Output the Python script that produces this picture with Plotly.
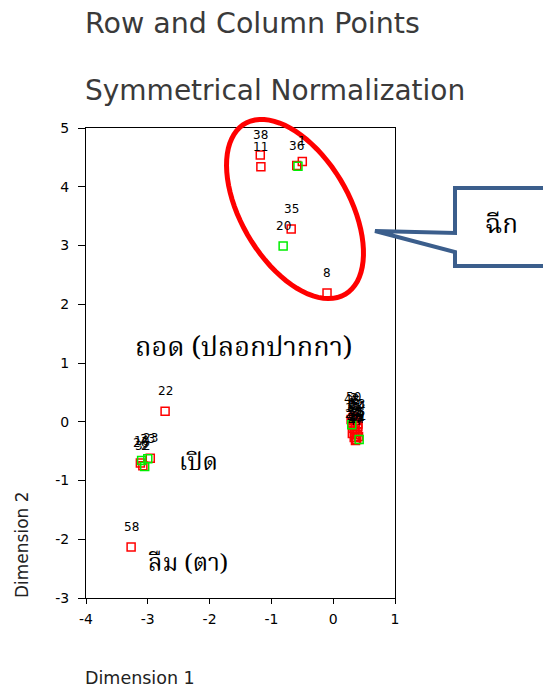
import numpy as np
import plotly.graph_objects as go

# ---------------- data ----------------
row_labels = ["38", "11", "36", "1", "35", "8", "22", "58",
              "23", "32", "26",
              "3", "5", "9", "12", "14", "17", "19", "25", "27", "29", "31", "40", "44", "47",
              "48", "50", "53", "55"]
row_x = [-1.18, -1.17, -0.59, -0.50, -0.68, -0.10, -2.72, -3.27,
         -2.96, -3.08, -3.12,
         0.33, 0.38, 0.30, 0.36, 0.40, 0.32, 0.35, 0.39, 0.31, 0.37, 0.41, 0.34, 0.38, 0.36,
         0.29, 0.33, 0.40, 0.35]
row_y = [4.54, 4.34, 4.36, 4.43, 3.28, 2.19, 0.18, -2.13,
         -0.62, -0.75, -0.70,
         0.06, 0.02, -0.02, -0.05, -0.08, -0.11, -0.14, -0.17, -0.20, -0.22, -0.25, -0.27, -0.30, -0.32,
         0.04, 0.08, -0.04, -0.18]

col_labels = ["", "20", "33", "2", "6", "7", "10"]
col_x = [-0.57, -0.81, -3.00, -3.05, 0.30, 0.42, -3.10]
col_y = [4.35, 2.99, -0.63, -0.76, -0.05, -0.30, -0.66]

x_ticks = [-4, -3, -2, -1, 0, 1]
x_tick_text = ["-4", "-3", "-2", "-1", "0", "1"]
y_ticks = [5, 4, 3, 2, 1, 0, -1, -2, -3]
y_tick_text = ["5", "4", "3", "2", "1", "0", "-1", "-2", "-3"]

title1 = "Row and Column Points"
title2 = "Symmetrical Normalization"
x_title = "Dimension 1"
y_title = "Dimension 2"
notes = [("ถอด (ปลอกปากกา)", 133, 348, 27), ("เปิด", 177, 464, 24), ("ลืม (ตา)", 146, 564, 24)]
callout_text = "ฉีก"

# ---------------- geometry (pixels) ----------------
W, H = 543, 691
L, R, T, B = 86, 395, 128, 598


def pxx(x):
    return (x - L) / (R - L)


def pxy(y):
    return (B - y) / (B - T)


LBL_FONT = dict(family="DejaVu Sans", size=12, color="black")
THAI_FONT = "Noto Serif Thai, Noto Sans Thai, Tlwg Typo, Loma, Garuda, serif"

fig = go.Figure()
fig.add_trace(go.Scatter(
    x=row_x, y=row_y, mode="markers", name="Row",
    marker=dict(symbol="square-open", size=8, color="#FF0000", line=dict(width=1.5, color="#FF0000")),
    hoverinfo="skip"))
fig.add_trace(go.Scatter(
    x=col_x, y=col_y, mode="markers", name="Column",
    marker=dict(symbol="square-open", size=8, color="#00EE00", line=dict(width=1.5, color="#00EE00")),
    hoverinfo="skip"))

annotations = []
for lab, x, y in list(zip(row_labels, row_x, row_y)) + list(zip(col_labels, col_x, col_y)):
    if lab:
        annotations.append(dict(x=x, y=y, xref="x", yref="y", text=lab, showarrow=False,
                                yshift=20, font=LBL_FONT))

# titles
annotations.append(dict(x=pxx(83), y=pxy(24), xref="paper", yref="paper", text=title1,
                        showarrow=False, xanchor="left", yanchor="middle",
                        font=dict(family="DejaVu Sans", size=28.5, color="#3a3a3a")))
annotations.append(dict(x=pxx(83), y=pxy(90), xref="paper", yref="paper", text=title2,
                        showarrow=False, xanchor="left", yanchor="middle",
                        font=dict(family="DejaVu Sans", size=28, color="#3a3a3a")))
annotations.append(dict(x=pxx(83), y=pxy(678), xref="paper", yref="paper", text=x_title,
                        showarrow=False, xanchor="left", yanchor="middle",
                        font=dict(family="DejaVu Sans", size=17.5, color="#222222")))
annotations.append(dict(x=pxx(22), y=pxy(545), xref="paper", yref="paper", text=y_title,
                        showarrow=False, xanchor="center", yanchor="middle", textangle=-90,
                        font=dict(family="DejaVu Sans", size=17, color="#222222")))
for txt, xl, yc, fs in notes:
    annotations.append(dict(x=pxx(xl), y=pxy(yc), xref="paper", yref="paper", text=txt,
                            showarrow=False, xanchor="left", yanchor="middle",
                            font=dict(family=THAI_FONT, size=fs, color="black")))
annotations.append(dict(x=pxx(501), y=pxy(226), xref="paper", yref="paper", text=callout_text,
                        showarrow=False, xanchor="center", yanchor="middle",
                        font=dict(family=THAI_FONT, size=26, color="black")))

# ellipse (pixel geometry -> paper)
cx, cy, a, b, ang = 295, 209, 99, 54, np.deg2rad(59.5)
t = np.linspace(0, 2 * np.pi, 80)
ex = cx + a * np.cos(t) * np.cos(ang) - b * np.sin(t) * np.sin(ang)
ey = cy + a * np.cos(t) * np.sin(ang) + b * np.sin(t) * np.cos(ang)
ell_path = "M " + " L ".join(f"{pxx(u):.5f},{pxy(v):.5f}" for u, v in zip(ex, ey)) + " Z"

callout_pts = [(455, 188), (570, 188), (570, 266), (455, 266), (455, 252), (375, 231), (455, 233)]
callout_path = "M " + " L ".join(f"{pxx(u):.5f},{pxy(v):.5f}" for u, v in callout_pts) + " Z"

shapes = [
    dict(type="path", path=ell_path, xref="paper", yref="paper",
         line=dict(color="#FF0000", width=5), fillcolor="rgba(0,0,0,0)", layer="above"),
    dict(type="path", path=callout_path, xref="paper", yref="paper",
         line=dict(color="#3B5E8C", width=4), fillcolor="white", layer="above"),
]

fig.update_layout(
    width=W, height=H,
    margin=dict(l=L, r=W - R, t=T, b=H - B, pad=0),
    paper_bgcolor="white", plot_bgcolor="white",
    showlegend=False,
    annotations=annotations,
    shapes=shapes,
    xaxis=dict(range=[-4, 1], tickvals=x_ticks, ticktext=x_tick_text, ticks="outside", ticklen=5,
               tickcolor="black", showline=True, linecolor="black", linewidth=1, mirror=True,
               showgrid=False, zeroline=False, ticklabelstandoff=3,
               tickfont=dict(family="DejaVu Sans", size=14, color="black")),
    yaxis=dict(range=[-3, 5], tickvals=y_ticks, ticktext=y_tick_text, ticks="outside", ticklen=7,
               tickcolor="black", showline=True, linecolor="black", linewidth=1, mirror=True,
               showgrid=False, zeroline=False, ticklabelstandoff=6,
               tickfont=dict(family="DejaVu Sans", size=14, color="black")),
)

fig.write_html("out.html")
